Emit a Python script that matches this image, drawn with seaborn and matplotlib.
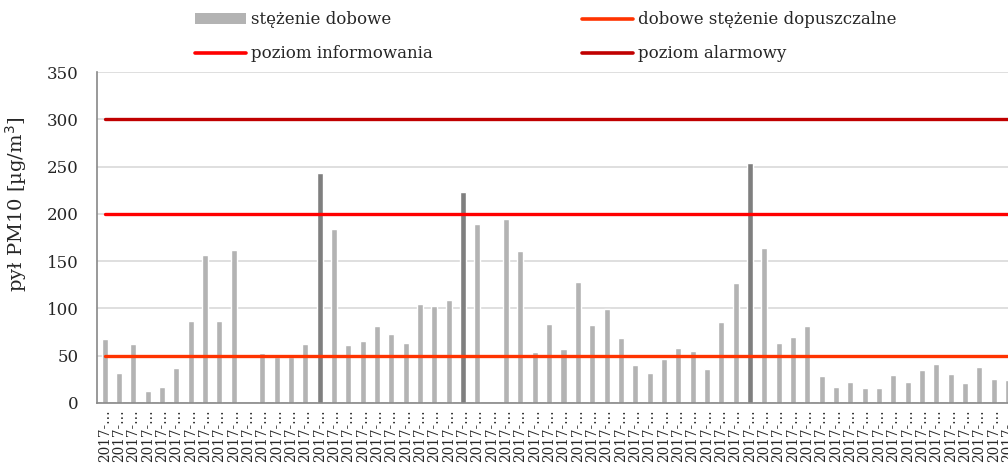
import matplotlib
matplotlib.use("Agg")
import matplotlib.pyplot as plt
from matplotlib.patches import Patch
from matplotlib.lines import Line2D
import seaborn as sns
import numpy as np
import pandas as pd

# =========================
# Data
# =========================

pm10 = [
    68, 32, 62, 13, 17, 37, 87, 156, 87, 162,
    np.nan, 53, 49, 49, 62, 243, 184, 61, 65, 81,
    73, 63, 105, 103, 109, 223, 189, np.nan, 195, 161,
    54, 83, 57, 128, 82, 99, 69, 40, 32, 46,
    58, 55, 36, 86, 127, 254, 164, 63, 70, 81,
    28, 17, 22, 16, 16, 29, 22, 35, 41, 31,
    21, 38, 25, 24,
]
tick_label = "2017-…"

limit_daily = 50
limit_info = 200
limit_alarm = 300

legend_labels = [
    "stężenie dobowe",
    "dobowe stężenie dopuszczalne",
    "poziom informowania",
    "poziom alarmowy",
]

# =========================
# Style
# =========================

sns.set_theme(style="white")
plt.rcParams["font.family"] = ["DejaVu Serif"]
fs = 12

bar_light = "#b3b3b3"
bar_dark = "#7f7f7f"
col_daily = "#ff3300"
col_info = "#ff0000"
col_alarm = "#c00000"

df = pd.DataFrame({"dzien": np.arange(len(pm10)), "pm10": pm10})
df["kolor"] = np.where(df["pm10"] > limit_info, "wysoki", "normalny")

# =========================
# Plot
# =========================

fig = plt.figure(figsize=(10.08, 4.69), dpi=100)
ax = fig.add_axes([0.096, 0.141, 0.904, 0.705])

sns.barplot(
    data=df,
    x="dzien",
    y="pm10",
    hue="kolor",
    palette={"normalny": bar_light, "wysoki": bar_dark},
    dodge=False,
    width=0.42,
    native_scale=True,
    legend=False,
    ax=ax,
)

xs = np.arange(len(pm10) + 2)
ax.plot(xs, [limit_daily] * len(xs), color=col_daily, lw=2.4, zorder=3)
ax.plot(xs, [limit_info] * len(xs), color=col_info, lw=2.4, zorder=3)
ax.plot(xs, [limit_alarm] * len(xs), color=col_alarm, lw=2.4, zorder=3)

ax.set_xlim(-0.55, 62.95)
ax.set_ylim(0, 350)
ax.set_yticks(range(0, 351, 50))
ax.yaxis.grid(True, color="#d9d9d9", lw=1.2)
ax.set_axisbelow(True)

ax.set_xticks(np.arange(len(pm10)))
ax.set_xticklabels([tick_label] * len(pm10), rotation=90, fontsize=9.8)
ax.set_xticks(np.arange(len(pm10)) - 0.5, minor=True)
ax.tick_params(axis="x", which="major", length=0, pad=5)
ax.tick_params(axis="x", which="minor", length=4, color="#888888", direction="out")
ax.tick_params(axis="y", length=5, width=1, color="#888888", direction="out",
               labelsize=fs, pad=8)

for side in ["top", "right"]:
    ax.spines[side].set_visible(False)
for side in ["left", "bottom"]:
    ax.spines[side].set_color("#888888")
    ax.spines[side].set_linewidth(1.2)

ax.set_xlabel("")
ax.set_ylabel("pył PM10 [µg/m$^{3}$]", fontsize=14)
ax.yaxis.set_label_coords(-0.074, 0.6)

# =========================
# Legend
# =========================

h_bar = Patch(facecolor=bar_light, edgecolor="none")
h_daily = Line2D([], [], color=col_daily, lw=2.6)
h_info = Line2D([], [], color=col_info, lw=2.6)
h_alarm = Line2D([], [], color=col_alarm, lw=2.6)

leg_opts = dict(
    loc="upper left",
    frameon=False,
    fontsize=fs,
    handlelength=3.1,
    handleheight=0.6,
    handletextpad=0.3,
    labelspacing=1.02,
    borderpad=0,
    borderaxespad=0,
)
fig.legend([h_bar, h_info], [legend_labels[0], legend_labels[2]],
           bbox_to_anchor=(0.193, 0.976), **leg_opts)
fig.legend([h_daily, h_alarm], [legend_labels[1], legend_labels[3]],
           bbox_to_anchor=(0.577, 0.976), **leg_opts)

fig.savefig("out.png", dpi=100)
